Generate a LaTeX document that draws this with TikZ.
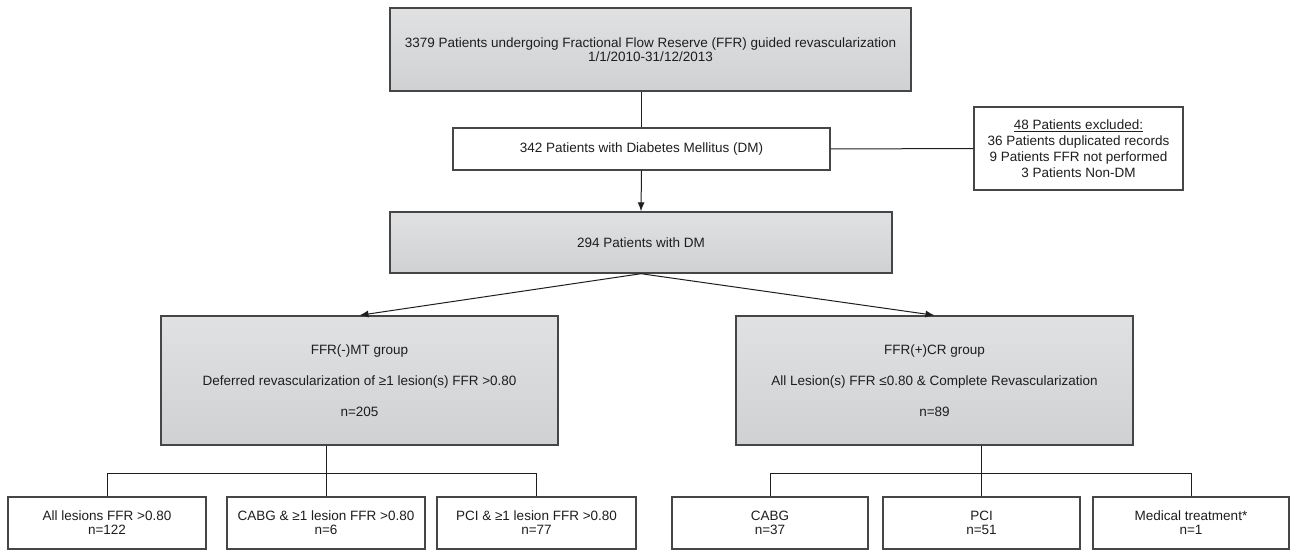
\documentclass[tikz,border=0pt]{standalone}
\usepackage{fontspec}
\setmainfont{Liberation Sans}
\usetikzlibrary{arrows.meta}
\definecolor{boxtop}{RGB}{224,225,227}
\definecolor{boxbot}{RGB}{208,209,211}
\definecolor{edge}{RGB}{70,70,70}
\definecolor{ink}{RGB}{30,30,30}
\tikzset{
  base/.style={draw=edge, line width=1.4pt, inner sep=0pt, align=center, text=ink,
    font=\fontsize{13.5}{14}\selectfont},
  graybox/.style={base, top color=boxtop, bottom color=boxbot},
  whitebox/.style={base, fill=white},
  conn/.style={draw=ink, line width=1pt},
  arr/.style={conn, -{Latex[length=9pt,width=7pt]}},
}
\begin{document}
\begin{tikzpicture}[x=1pt,y=-1pt]
\useasboundingbox (0,0) rectangle (1291,559);
% boxes
\node[graybox, minimum width=521, minimum height=83] (top) at (650.5,49.5)
  {3379 Patients undergoing Fractional Flow Reserve (FFR) guided revascularization\\1/1/2010-31/12/2013};
\node[whitebox, minimum width=377, minimum height=42] (dm) at (641.5,149)
  {342 Patients with Diabetes Mellitus (DM)};
\node[whitebox, minimum width=209, minimum height=83, font=\fontsize{13.5}{16}\selectfont] (excl) at (1078.5,148.5)
  {\underline{48 Patients excluded:}\\36 Patients duplicated records\\9 Patients FFR not performed\\3 Patients Non-DM};
\node[graybox, minimum width=502, minimum height=61] (dmtwo) at (641,242.5)
  {294 Patients with DM};
\node[graybox, minimum width=397, minimum height=129] (neg) at (359.5,380.5)
  {FFR(-)MT group\\[17pt]Deferred revascularization of ≥1 lesion(s) FFR >0.80\\[17pt]n=205};
\node[graybox, minimum width=397, minimum height=129] (pos) at (934.5,380.5)
  {FFR(+)CR group\\[17pt]All Lesion(s) FFR ≤0.80 \& Complete Revascularization\\[17pt]n=89};
\node[whitebox, minimum width=198, minimum height=52] (b1) at (107,523)
  {All lesions FFR >0.80\\n=122};
\node[whitebox, minimum width=198, minimum height=52] (b2) at (326,523)
  {CABG \& ≥1 lesion FFR >0.80\\n=6};
\node[whitebox, minimum width=199, minimum height=52] (b3) at (536.5,523)
  {PCI \& ≥1 lesion FFR >0.80\\n=77};
\node[whitebox, minimum width=196, minimum height=52] (b4) at (770,523)
  {CABG\\n=37};
\node[whitebox, minimum width=197, minimum height=52] (b5) at (981.5,523)
  {PCI\\n=51};
\node[whitebox, minimum width=196, minimum height=52] (b6) at (1191,523)
  {Medical treatment*\\n=1};
% connectors
\draw[conn] (top.south -| dm.north) -- (dm.north);
\draw[arr] (dm.south) -- (dmtwo.north);
\draw[conn] (dm.east) -- (excl.west);
\draw[arr] (dmtwo.south) -- (neg.north);
\draw[arr] (dmtwo.south) -- (pos.north);
\draw[conn] (b2.north |- neg.south) -- (b2.north);
\draw[conn] (b1.north) -- ++(0,-23) -| (b3.north);
\draw[conn] (b5.north |- pos.south) -- (b5.north);
\draw[conn] (b4.north) -- ++(0,-23) -| (b6.north);
\end{tikzpicture}
\end{document}
